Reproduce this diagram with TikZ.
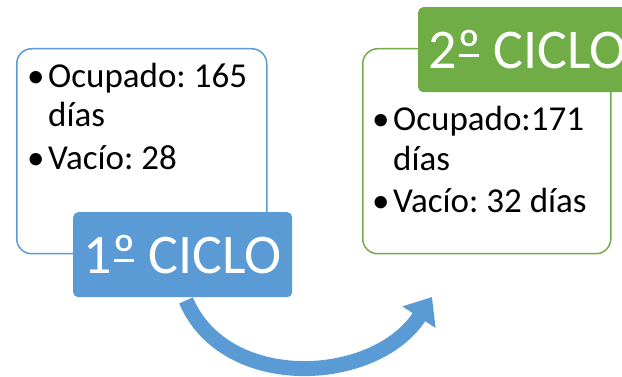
\documentclass[tikz,border=0pt]{standalone}
\usepackage{fontspec}
\setmainfont{Carlito}
\usetikzlibrary{arrows.meta}
\definecolor{azul}{HTML}{5B9BD5}
\definecolor{verde}{HTML}{70AD47}
\frenchspacing
\newcommand{\bul}{\makebox[21pt][l]{\textbullet}}
\newsavebox{\ordbox}
\newcommand{\ordm}{\sbox\ordbox{º}\rlap{\usebox\ordbox}\hspace{0.03em}\rule[0.21em]{\dimexpr\wd\ordbox-0.06em\relax}{0.045em}\hspace{0.03em}}

\begin{document}
\begin{tikzpicture}[x=1pt, y=-1pt,
	caja/.style = {draw=#1, line width=1.5pt, rounded corners=15pt, fill=white, anchor=north west, inner sep=0pt},
	ciclo/.style = {fill=#1, rounded corners=5pt, anchor=north west, inner sep=0pt, minimum width=219pt, minimum height=85pt, text=white, font=\fontsize{56}{60}\selectfont},
	txt/.style = {anchor=base west, align=left, inner sep=0pt, font=\fontsize{35}{39}\selectfont},
	flecha/.style = {azul, line width=15pt, -{Triangle[length=24pt,width=38pt]}}]
	\useasboundingbox (0,0) rectangle (622,377);
	% primer ciclo
	\node[caja=azul, minimum width=250pt, minimum height=205pt] (caja1) at (16,48) {};
	\node[txt] (datos1) at (27,170) {\bul Ocupado: 165\\ \hspace*{21pt}días\\[4pt] \bul Vacío: 28};
	\node[ciclo=azul] (ciclo1) at (73,212) {1\ordm{} CICLO};
	% segundo ciclo
	\node[caja=verde, minimum width=248pt, minimum height=205pt] (caja2) at (362,48) {};
	\node[txt] (datos2) at (372,213) {\bul Ocupado:171\\ \hspace*{21pt}días\\[4pt] \bul Vacío: 32 días};
	\node[ciclo=verde] (ciclo2) at (418,7) {2\ordm{} CICLO};
	% flecha
	\coordinate (punta) at (432,297);
	\draw[flecha] ([xshift=113pt,yshift=-3pt]ciclo1.south west) .. controls +(39,92) and +(-57,88) .. (punta);
\end{tikzpicture}
\end{document}
